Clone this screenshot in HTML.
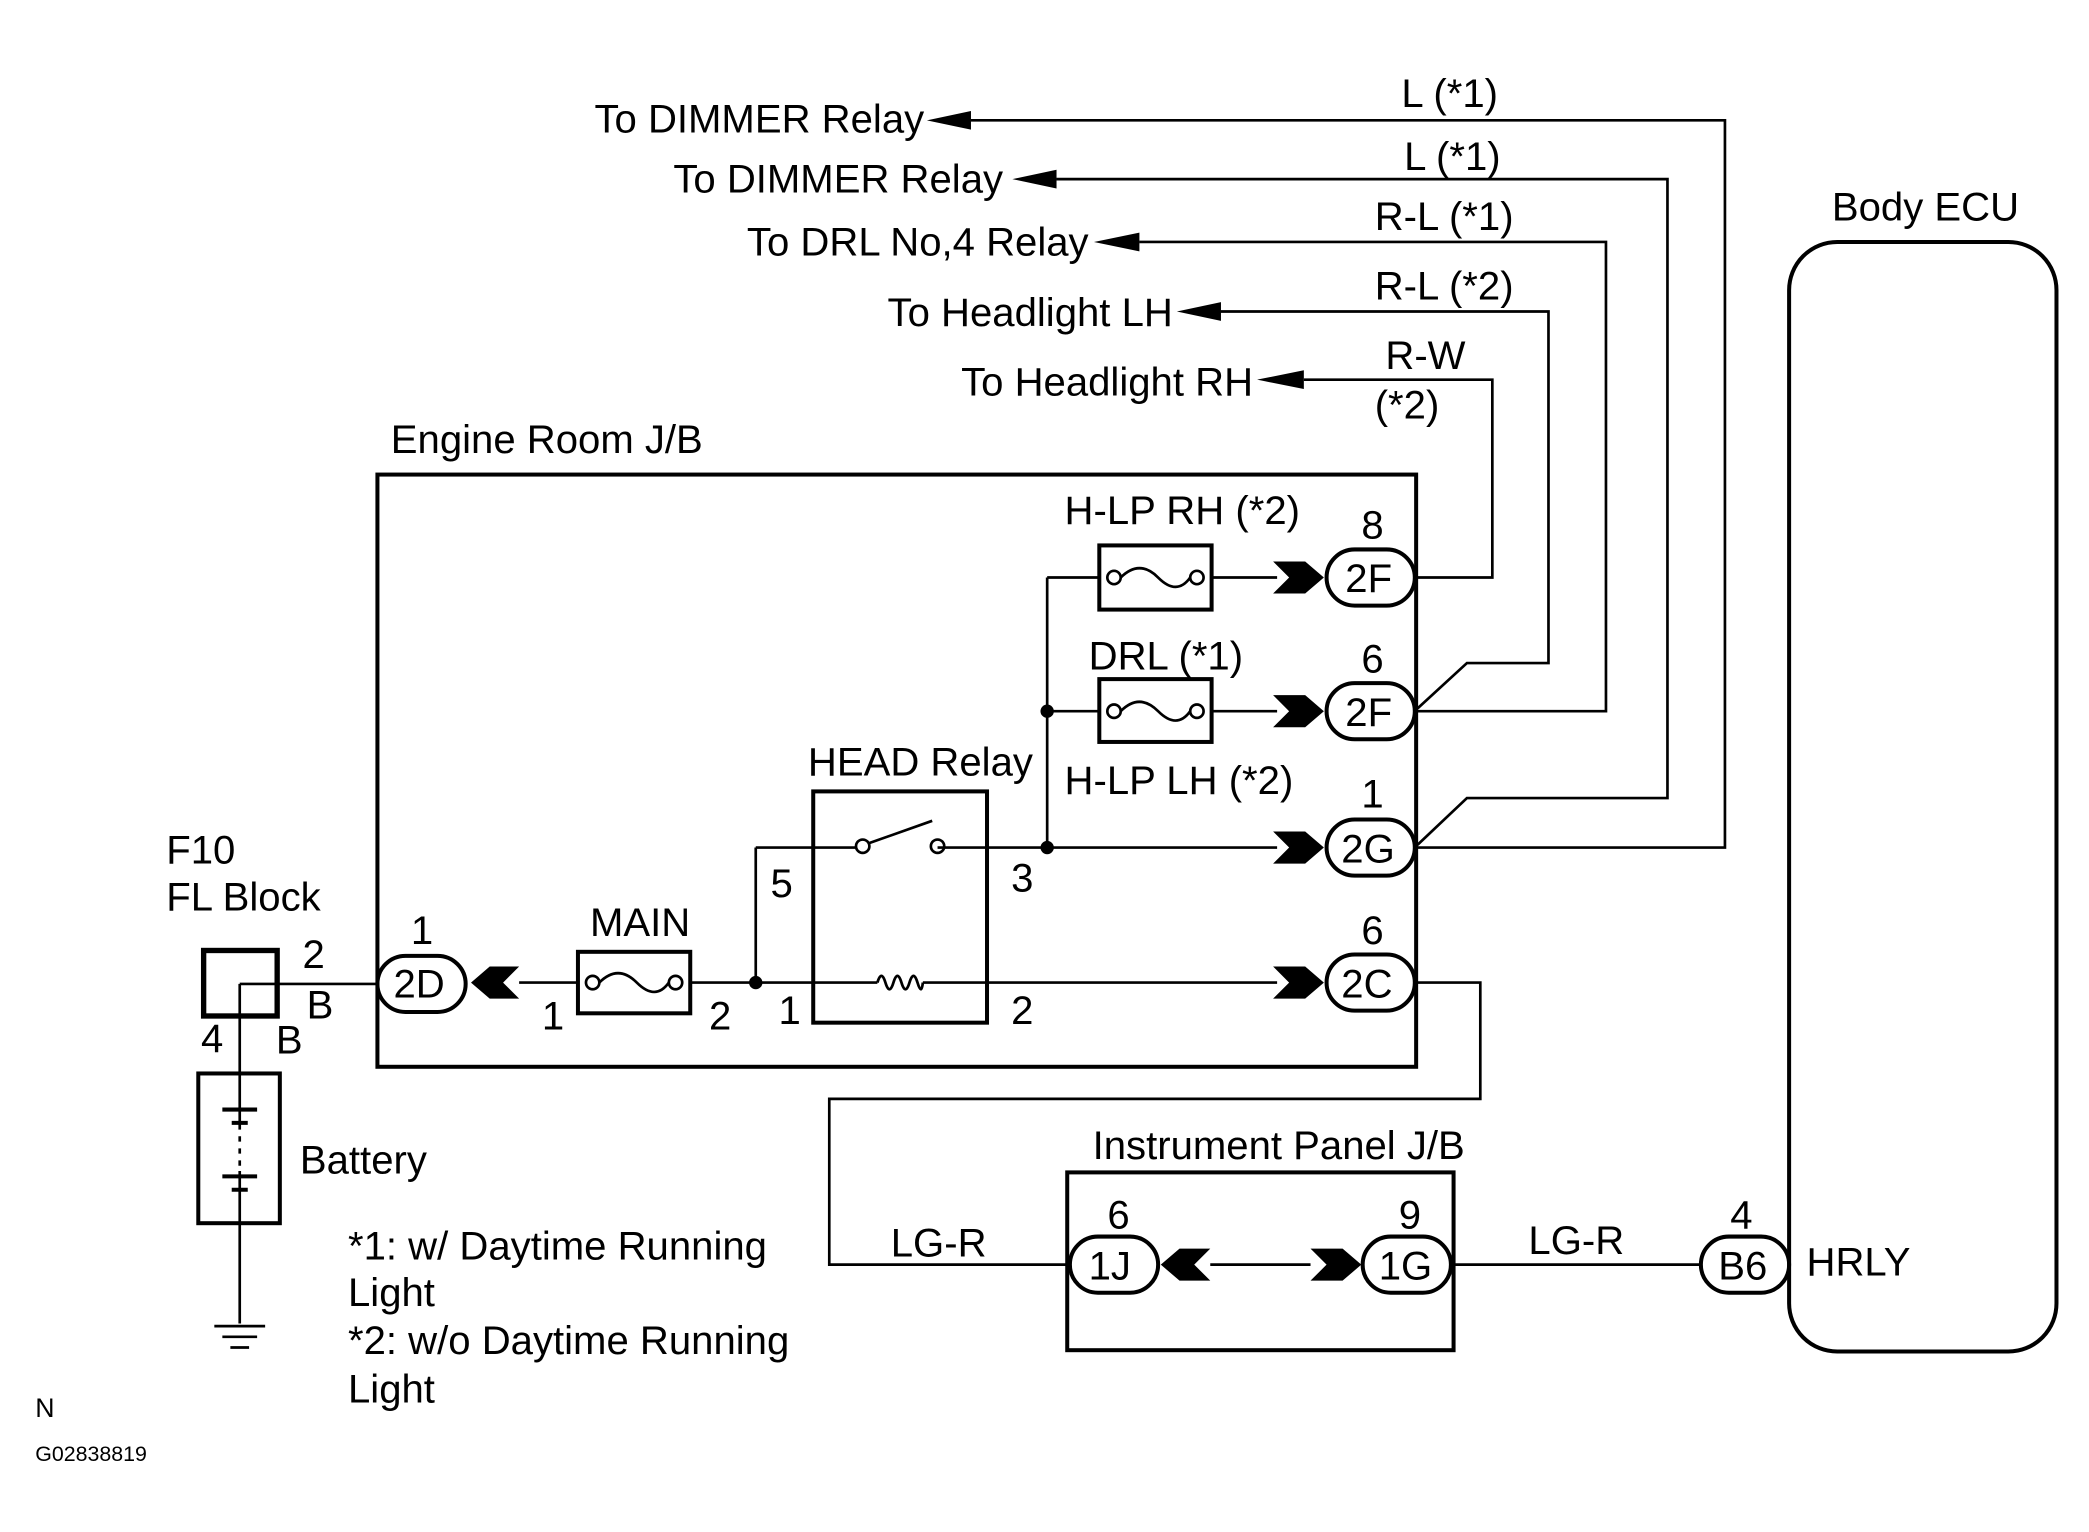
<!DOCTYPE html>
<html><head><meta charset="utf-8"><style>
html,body{margin:0;padding:0;background:#fff}
svg{display:block}
text{font-family:"Liberation Sans",Arial,sans-serif;font-size:30px;fill:#000}
.e{text-anchor:end}
</style></head><body>
<svg width="2089" height="1532" viewBox="0 0 1562 1146" xmlns="http://www.w3.org/2000/svg">
<g fill="none" stroke="#000" stroke-width="2">
<rect x="282" y="355" width="777" height="443" stroke-width="3"/>
<rect x="822" y="408" width="84" height="48" stroke-width="3"/>
<rect x="822" y="508" width="84" height="47" stroke-width="3"/>
<rect x="432" y="712" width="84" height="46" stroke-width="3"/>
<rect x="608" y="592" width="130" height="173" stroke-width="3"/>
<line x1="783" y1="432" x2="822" y2="432"/>
<line x1="906" y1="432" x2="955" y2="432"/>
<line x1="783" y1="532" x2="822" y2="532"/>
<line x1="906" y1="532" x2="955" y2="532"/>
<line x1="783" y1="432" x2="783" y2="634"/>
<line x1="701" y1="634" x2="955" y2="634"/>
<line x1="565" y1="634" x2="640" y2="634"/>
<line x1="649" y1="631" x2="697" y2="614"/>
<line x1="565" y1="634" x2="565" y2="735"/>
<line x1="388" y1="735" x2="432" y2="735"/>
<line x1="516" y1="735" x2="656" y2="735"/>
<line x1="690" y1="735" x2="955" y2="735"/>
<path d="M656 735 q3-10 6 0 q3 10 6 0 q3-10 6 0 q3 10 6 0 q3-10 6 0 q3 10 4 0"/>
<circle cx="645" cy="633" r="5"/><circle cx="701" cy="633" r="5"/>
<circle cx="833" cy="432" r="5"/><circle cx="895" cy="432" r="5"/>
<path d="M838 432 q14-14 28 0 q14 14 24 0"/>
<circle cx="833" cy="532" r="5"/><circle cx="895" cy="532" r="5"/>
<path d="M838 532 q14-14 28 0 q14 14 24 0"/>
<circle cx="443" cy="735" r="5"/><circle cx="505" cy="735" r="5"/>
<path d="M448 735 q14-14 28 0 q14 14 24 0"/>
<rect x="992" y="411" width="66" height="42" rx="21" stroke-width="3"/>
<rect x="992" y="511" width="66" height="42" rx="21" stroke-width="3"/>
<rect x="992" y="613" width="66" height="42" rx="21" stroke-width="3"/>
<rect x="992" y="714" width="66" height="42" rx="21" stroke-width="3"/>
<rect x="282" y="715" width="66" height="42" rx="21" stroke-width="3"/>
<rect x="800" y="925" width="66" height="42" rx="21" stroke-width="3"/>
<rect x="1019" y="925" width="66" height="42" rx="21" stroke-width="3"/>
<rect x="1272" y="925" width="66" height="42" rx="21" stroke-width="3"/>
<polyline points="1058,432 1116,432 1116,284 975,284"/>
<polyline points="1060,530 1097,496 1158,496 1158,233 913,233"/>
<polyline points="1058,532 1201,532 1201,181 852,181"/>
<polyline points="1060,632 1097,597 1247,597 1247,134 790,134"/>
<polyline points="1058,634 1290,634 1290,90 726,90"/>
<polyline points="1058,735 1107,735 1107,822 620,822 620,946 800,946"/>
<line x1="905" y1="946" x2="980" y2="946"/>
<line x1="1085" y1="946" x2="1272" y2="946"/>
<rect x="798" y="877" width="289" height="133" stroke-width="3"/>
<rect x="1338" y="181" width="200" height="830" rx="36" stroke-width="3"/>
<rect x="152" y="711" width="55" height="49" stroke-width="4"/>
<line x1="179" y1="736" x2="282" y2="736"/>
<line x1="179" y1="736" x2="179" y2="990"/>
<rect x="148" y="803" width="61" height="112" stroke-width="3"/>
<line x1="166" y1="830" x2="192" y2="830" stroke-width="3"/>
<line x1="173" y1="840" x2="185" y2="840" stroke-width="3"/>
<line x1="166" y1="880" x2="192" y2="880" stroke-width="3"/>
<line x1="173" y1="890" x2="185" y2="890" stroke-width="3"/>
<line x1="160" y1="992" x2="198" y2="992"/>
<line x1="166" y1="1000" x2="192" y2="1000"/>
<line x1="172" y1="1008" x2="186" y2="1008"/>
</g>
<line x1="179" y1="845" x2="179" y2="876" stroke="#fff" stroke-width="3" stroke-dasharray="5,4"/>
<g fill="#000">
<circle cx="783" cy="532" r="5"/><circle cx="783" cy="634" r="5"/><circle cx="565" cy="735" r="5"/>
<polygon points="952,420 976,420 990,432 976,444 952,444 964,432"/>
<polygon points="952,520 976,520 990,532 976,544 952,544 964,532"/>
<polygon points="952,622 976,622 990,634 976,646 952,646 964,634"/>
<polygon points="952,723 976,723 990,735 976,747 952,747 964,735"/>
<polygon points="980,934 1004,934 1018,946 1004,958 980,958 992,946"/>
<polygon points="388,723 366,723 352,735 366,747 388,747 376,735"/>
<polygon points="905,934 882,934 868,946 882,958 905,958 893,946"/>
<polygon points="693,90 726,83 726,97"/>
<polygon points="757,134 790,127 790,141"/>
<polygon points="818,181 852,174 852,188"/>
<polygon points="880,233 913,226 913,240"/>
<polygon points="940,284 975,277 975,291"/>
</g>
<text class="e" x="691" y="99">To DIMMER Relay</text>
<text class="e" x="750" y="144">To DIMMER Relay</text>
<text class="e" x="814" y="191">To DRL No,4 Relay</text>
<text class="e" x="877" y="244">To Headlight LH</text>
<text class="e" x="937" y="296">To Headlight RH</text>
<text x="1048" y="80">L  (*1)</text>
<text x="1050" y="127">L  (*1)</text>
<text x="1028" y="172">R-L (*1)</text>
<text x="1028" y="224">R-L  (*2)</text>
<text x="1036" y="276">R-W</text>
<text x="1028" y="313">(*2)</text>
<text x="1370" y="165">Body ECU</text>
<text x="292" y="339">Engine Room J/B</text>
<text x="796" y="392">H-LP  RH  (*2)</text>
<text x="814" y="501">DRL (*1)</text>
<text x="796" y="594">H-LP  LH  (*2)</text>
<text x="604" y="580">HEAD Relay</text>
<text x="441" y="700">MAIN</text>
<text x="1018" y="403">8</text>
<text x="1018" y="503">6</text>
<text x="1018" y="604">1</text>
<text x="1018" y="706">6</text>
<text x="1006" y="443">2F</text>
<text x="1006" y="543">2F</text>
<text x="1003" y="645">2G</text>
<text x="1003" y="746">2C</text>
<text x="294" y="746">2D</text>
<text x="307" y="706">1</text>
<text x="576" y="671">5</text>
<text x="756" y="667">3</text>
<text x="405" y="770">1</text>
<text x="530" y="770">2</text>
<text x="582" y="766">1</text>
<text x="756" y="766">2</text>
<text x="124" y="646">F10</text>
<text x="124" y="681">FL Block</text>
<text x="226" y="724">2</text>
<text x="229" y="762">B</text>
<text x="150" y="787">4</text>
<text x="206" y="788">B</text>
<text x="224" y="878">Battery</text>
<text x="260" y="942">*1: w/ Daytime Running</text>
<text x="260" y="977">Light</text>
<text x="260" y="1013">*2: w/o Daytime Running</text>
<text x="260" y="1049">Light</text>
<text x="26" y="1060" style="font-size:20px">N</text>
<text x="26" y="1093" style="font-size:16px">G02838819</text>
<text x="817" y="867">Instrument Panel J/B</text>
<text x="828" y="919">6</text>
<text x="1046" y="919">9</text>
<text x="814" y="957">1J</text>
<text x="1031" y="957">1G</text>
<text x="666" y="940">LG-R</text>
<text x="1143" y="938">LG-R</text>
<text x="1294" y="919">4</text>
<text x="1285" y="957">B6</text>
<text x="1351" y="954">HRLY</text>
</svg>
</body></html>
